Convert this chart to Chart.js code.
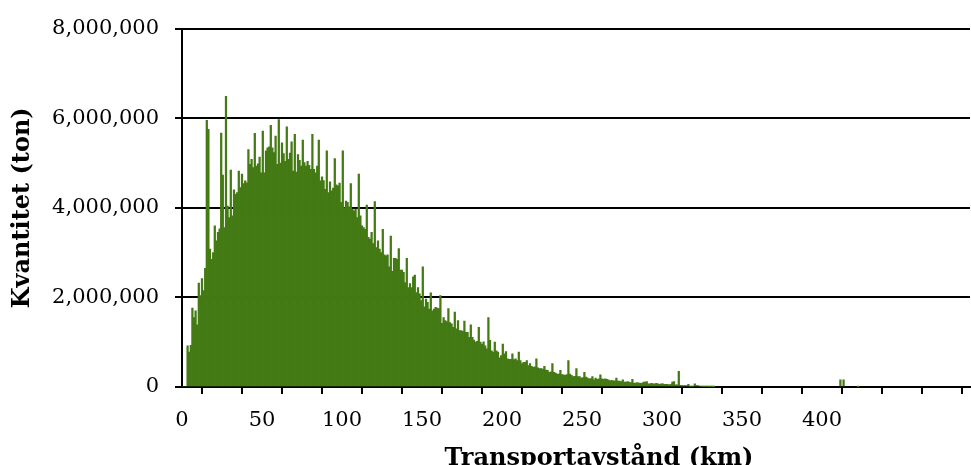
<!DOCTYPE html>
<html>
<head>
<meta charset="utf-8">
<script src="https://cdn.jsdelivr.net/npm/chart.js@4"></script>
<style>
  html, body { margin: 0; padding: 0; background: #fff; }
  #wrap { width: 971px; height: 465px; position: relative; }
</style>
</head>
<body>
<div id="wrap"><canvas id="distChart"></canvas></div>
<script>
// Kvantitet per transportavstånd, i tusen ton, index = km (0..332)
const tonPerKm = [
  0, 0, 0, 920, 780, 930, 1760, 1550, 1700, 1390,
  2320, 2040, 2420, 2150, 2650, 5950, 5750, 3080, 2850, 3000,
  3600, 3260, 3450, 3530, 5670, 4730, 3560, 6490, 4040, 3780,
  4840, 3820, 4400, 4300, 4340, 4820, 4450, 4750, 4540, 4600,
  4560, 5300, 4970, 5080, 4900, 5660, 4930, 4980, 5130, 4780,
  5710, 4780, 5270, 5340, 5360, 5840, 5340, 5230, 5600, 4970,
  5970, 5000, 5450, 5210, 5040, 5810, 5080, 5220, 5470, 4820,
  5640, 4800, 5190, 5060, 4930, 5510, 5010, 4930, 5040, 4950,
  4860, 5640, 4860, 4780, 4930, 5510, 4600, 4690, 4610, 4410,
  5270, 4340, 4580, 4380, 4440, 5100, 4510, 4490, 4550, 4120,
  5270, 4000, 4150, 4120, 4020, 4540, 3970, 3930, 3970, 3780,
  4750, 3820, 3600, 3560, 3520, 4060, 3340, 3300, 3450, 3200,
  4140, 3110, 3260, 3080, 3000, 3520, 2950, 2930, 2950, 2680,
  3370, 2580, 2870, 2870, 2850, 3090, 2610, 2610, 2560, 2330,
  2870, 2220, 2310, 2220, 2460, 2500, 2110, 2220, 2080, 1930,
  2680, 1790, 1960, 1890, 1740, 2100, 1700, 1740, 1780, 1760,
  1750, 2040, 1420, 1550, 1480, 1460, 1750, 1440, 1410, 1330,
  1670, 1300, 1480, 1260, 1260, 1240, 1470, 1220, 1220, 1110,
  1390, 1110, 1050, 1000, 1020, 1330, 1000, 960, 1010, 920,
  850, 1550, 1040, 810, 780, 1000, 810, 780, 650, 700,
  960, 740, 790, 630, 620, 620, 740, 610, 630, 590,
  780, 590, 520, 550, 550, 590, 480, 520, 460, 440,
  450, 630, 430, 410, 410, 400, 460, 380, 370, 330,
  340, 520, 330, 310, 290, 290, 370, 280, 270, 260,
  280, 590, 290, 260, 230, 240, 410, 230, 230, 200,
  210, 330, 220, 200, 180, 190, 230, 160, 200, 170,
  180, 270, 180, 170, 180, 170, 160, 140, 150, 140,
  140, 200, 130, 130, 120, 160, 110, 110, 120, 110,
  100, 170, 90, 90, 100, 90, 90, 80, 110, 110,
  120, 70, 70, 80, 70, 70, 80, 70, 60, 70,
  70, 60, 60, 60, 50, 60, 110, 120, 50, 50,
  350, 40, 30, 30, 30, 30, 60, 20, 20, 20,
  70, 30, 30, 20, 20, 15, 15, 15, 15, 10,
  15, 10, 10
];
// enstaka långa avstånd
const farKm = [411, 413, 422];
const farTon = [160, 160, 10];

const xTickLabels = [0, 50, 100, 150, 200, 250, 300, 350, 400];
const yTicks = [0, 2000000, 4000000, 6000000, 8000000];
const xTitle = "Transportavstånd (km)";
const yTitle = "Kvantitet (ton)";

const points = tonPerKm.map((v, km) => ({ x: km + 0.5, y: v * 1000 }));
farKm.forEach((km, i) => points.push({ x: km + 0.5, y: farTon[i] * 1000 }));

Chart.defaults.font.family = "'DejaVu Serif', serif";
Chart.defaults.color = "#000";

// x-axelns titel sitter lite till höger om mitten i originalet
const xTitlePlugin = {
  id: "xTitle",
  afterDraw(chart) {
    const c = chart.ctx;
    c.save();
    c.font = "bold 24px 'DejaVu Serif', serif";
    c.fillStyle = "#000";
    c.textAlign = "center";
    c.textBaseline = "alphabetic";
    c.fillText(xTitle, 599, 465);
    c.restore();
  },
};

const ctx = document.getElementById("distChart").getContext("2d");

new Chart(ctx, {
  type: "bar",
  data: {
    datasets: [
      {
        data: points,
        backgroundColor: "#437a14",
        borderWidth: 0,
        barPercentage: 1,
        categoryPercentage: 1,
      },
    ],
  },
  plugins: [xTitlePlugin],
  options: {
    responsive: true,
    maintainAspectRatio: false,
    animation: false,
    layout: { padding: { top: 12, right: 1, left: 0, bottom: 0 } },
    plugins: { legend: { display: false }, tooltip: { enabled: false } },
    scales: {
      x: {
        type: "linear",
        offset: false,
        min: 0,
        max: 492.5,
        afterFit: (scale) => { scale.height = 78; },
        border: { display: true, color: "#000", width: 2 },
        grid: { drawOnChartArea: false, color: "#000", lineWidth: 2, tickLength: 7 },
        ticks: {
          stepSize: 25,
          includeBounds: false,
          autoSkip: false,
          maxRotation: 0,
          padding: 14,
          font: { size: 21 },
          callback: (v) => (xTickLabels.includes(v) ? String(v) : ""),
        },
      },
      y: {
        min: 0,
        max: 8000000,
        afterFit: (scale) => { scale.width = 182; },
        afterBuildTicks: (scale) => { scale.ticks = yTicks.map((v) => ({ value: v })); },
        border: { display: true, color: "#000", width: 2 },
        grid: { color: "#000", lineWidth: 2, tickLength: 7 },
        ticks: {
          padding: 16,
          font: { size: 21 },
          callback: (v) => v.toLocaleString("en-US"),
        },
        title: {
          display: true,
          text: yTitle,
          font: { size: 24, weight: "bold" },
          padding: { top: 8, bottom: 0 },
        },
      },
    },
  },
});
</script>
</body>
</html>
